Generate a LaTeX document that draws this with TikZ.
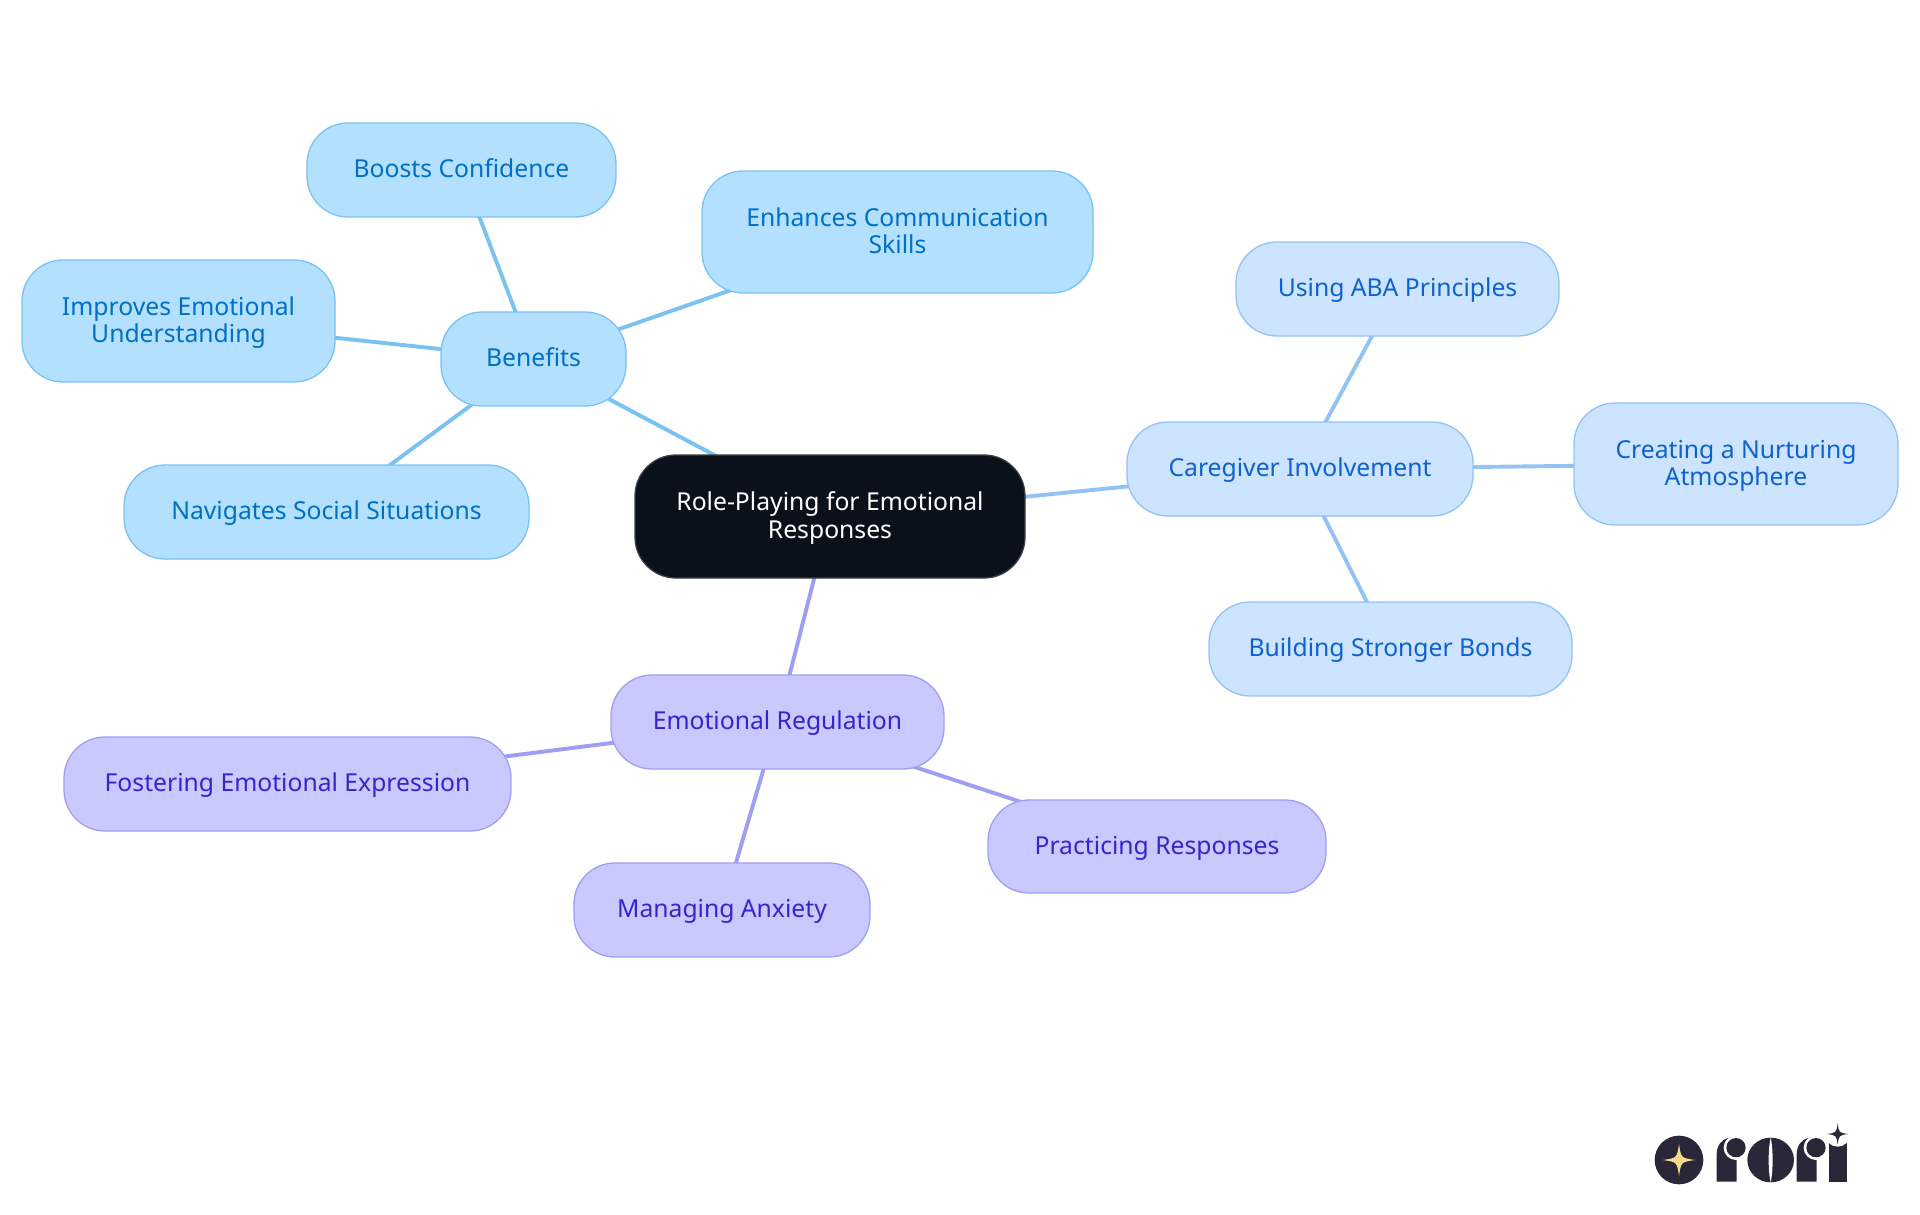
\documentclass[tikz,border=0pt]{standalone}
\usepackage{fontspec}
\setmainfont{Noto Sans}
\usetikzlibrary{backgrounds}
\definecolor{rootfill}{HTML}{0B111B}
\definecolor{rootline}{HTML}{3A3F47}
\definecolor{cyanfill}{HTML}{B3E0FF}
\definecolor{cyanline}{HTML}{79C2F2}
\definecolor{cyantext}{HTML}{0070C4}
\definecolor{bluefill}{HTML}{CCE4FF}
\definecolor{blueline}{HTML}{93C2F5}
\definecolor{bluetext}{HTML}{0F62CC}
\definecolor{vfill}{HTML}{C9C9FF}
\definecolor{vline}{HTML}{9E9EF5}
\definecolor{vtext}{HTML}{3525CC}
\definecolor{logodark}{HTML}{2A2838}
\definecolor{logostar}{HTML}{FBD98C}
\tikzset{
  x=1pt,y=-1pt,
  mm/.style={draw,line width=1.3pt,rounded corners=41pt,inner sep=0pt,align=center,
    font=\fontsize{24.7}{27}\selectfont},
  rootbox/.style={mm,fill=rootfill,draw=rootline,text=white,font=\fontsize{24.7}{28}\selectfont},
  cyanbox/.style={mm,fill=cyanfill,draw=cyanline,text=cyantext},
  bluebox/.style={mm,fill=bluefill,draw=blueline,text=bluetext},
  vbox/.style={mm,fill=vfill,draw=vline,text=vtext},
  cyanlink/.style={draw=cyanline,line width=3.9pt},
  bluelink/.style={draw=blueline,line width=3.9pt},
  vlink/.style={draw=vline,line width=3.9pt},
}
\newcommand{\mmbox}[7]{% style,name,x1,y1,x2,y2,text
  \pgfmathsetmacro{\bw}{#5-#3}\pgfmathsetmacro{\bh}{#6-#4}
  \pgfmathsetmacro{\cx}{(#3+#5)/2}\pgfmathsetmacro{\cy}{(#4+#6)/2}
  \node[#1,minimum width=\bw pt,minimum height=\bh pt] (#2) at (\cx,\cy)
    {\rule{0pt}{23.3pt}#7\rule[-8.1pt]{0pt}{8.1pt}};}
\newcommand{\fourstar}[4]{% cx,cy,r,colour
  \fill[#4] (#1,#2-#3) .. controls (#1+0.12*#3,#2-0.12*#3) .. (#1+#3,#2)
    .. controls (#1+0.12*#3,#2+0.12*#3) .. (#1,#2+#3)
    .. controls (#1-0.12*#3,#2+0.12*#3) .. (#1-#3,#2)
    .. controls (#1-0.12*#3,#2-0.12*#3) .. (#1,#2-#3) -- cycle;}
\newcommand{\logor}[1]{% x offset of an r
  \begin{scope}[xshift=#1*0.3333pt]
  \fill[logodark] (290,245) -- (290,165) .. controls (290,135) and (305,118) .. (328,113) -- (350,113) -- (350,245) -- cycle;
  \fill[white] (348,143) circle (37);
  \fill[logodark] (348,143) circle (29);
  \end{scope}}
\begin{document}
\begin{tikzpicture}
\useasboundingbox (0,0) rectangle (1920,1215);
\mmbox{rootbox}{root}{635}{455}{1025}{578}{Role-Playing for Emotional\\Responses}
\mmbox{cyanbox}{benefits}{441}{312}{626}{406}{Benefits}
\mmbox{cyanbox}{boosts}{307}{123}{616}{217}{Boosts Confidence}
\mmbox{cyanbox}{enhances}{702}{171}{1093}{293}{Enhances Communication\\Skills}
\mmbox{cyanbox}{improves}{22}{260}{335}{382}{Improves Emotional\\Understanding}
\mmbox{cyanbox}{navigates}{124}{465}{529}{559}{Navigates Social Situations}
\mmbox{bluebox}{caregiver}{1127}{422}{1473}{516}{Caregiver Involvement}
\mmbox{bluebox}{aba}{1236}{242}{1559}{336}{Using ABA Principles}
\mmbox{bluebox}{creating}{1574}{403}{1898}{525}{Creating a Nurturing\\Atmosphere}
\mmbox{bluebox}{building}{1209}{602}{1572}{696}{Building Stronger Bonds}
\mmbox{vbox}{regulation}{611}{675}{944}{769}{Emotional Regulation}
\mmbox{vbox}{fostering}{64}{737}{511}{831}{Fostering Emotional Expression}
\mmbox{vbox}{managing}{574}{863}{870}{957}{Managing Anxiety}
\mmbox{vbox}{practicing}{988}{800}{1326}{893}{Practicing Responses}
\begin{scope}[on background layer]
  \draw[cyanlink] (root.center) -- (benefits.center);
  \draw[cyanlink] (benefits.center) -- (boosts.center);
  \draw[cyanlink] (benefits.center) -- (enhances.center);
  \draw[cyanlink] (benefits.center) -- (improves.center);
  \draw[cyanlink] (benefits.center) -- (navigates.center);
  \draw[bluelink] (root.center) -- (caregiver.center);
  \draw[bluelink] (caregiver.center) -- (aba.center);
  \draw[bluelink] (caregiver.center) -- (creating.center);
  \draw[bluelink] (caregiver.center) -- (building.center);
  \draw[vlink] (root.center) -- (regulation.center);
  \draw[vlink] (regulation.center) -- (fostering.center);
  \draw[vlink] (regulation.center) -- (managing.center);
  \draw[vlink] (regulation.center) -- (practicing.center);
\end{scope}
% logo, in 3x crop coordinates
\begin{scope}[shift={(1620,1100)},x=0.3333pt,y=-0.3333pt]
  \fill[logodark] (177,180) circle (73);
  \fourstar{177}{180}{49}{logostar}
  \logor{0}
  % o
  \fill[logodark] (452,180) ellipse (70 and 67);
  \fill[white] (452,112) .. controls (460,150) and (460,210) .. (452,248) .. controls (444,210) and (444,150) .. (452,112) -- cycle;
  \logor{240}
  % i
  \fill[logodark] (628,245) -- (628,130) -- (680,130) -- (680,245) -- cycle;
  \fill[white] (653,102) circle (38);
  \fourstar{653}{102}{32}{logodark}
\end{scope}
\end{tikzpicture}
\end{document}
